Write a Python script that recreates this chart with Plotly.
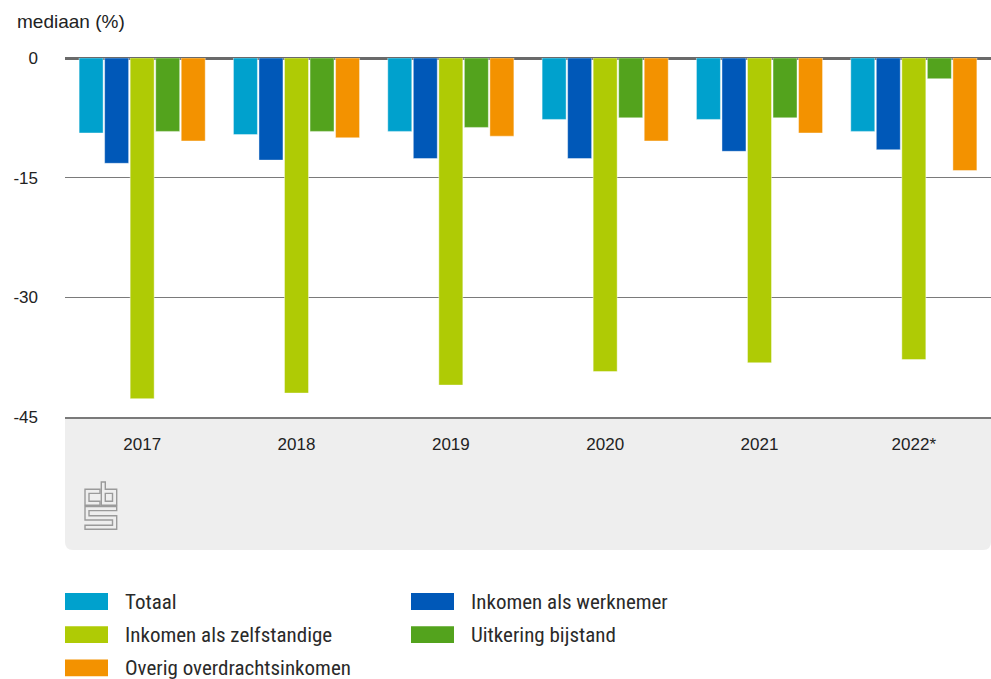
import plotly.graph_objects as go

# ---- data ----
years = ["2017", "2018", "2019", "2020", "2021", "2022*"]
series_names = ["Totaal", "Inkomen als werknemer", "Inkomen als zelfstandige",
                "Uitkering bijstand", "Overig overdrachtsinkomen"]
totaal = [-9.4, -9.6, -9.2, -7.7, -7.7, -9.2]
werknemer = [-13.2, -12.8, -12.6, -12.6, -11.7, -11.5]
zelfstandige = [-42.7, -42.0, -41.0, -39.3, -38.2, -37.8]
bijstand = [-9.2, -9.2, -8.7, -7.5, -7.5, -2.6]
overig = [-10.4, -10.0, -9.8, -10.4, -9.4, -14.1]
y_ticks = [0, -15, -30, -45]
y_title = "mediaan (%)"

colors = ["#00a1cd", "#0058b8", "#afcb05", "#53a31d", "#f39200"]
values = [totaal, werknemer, zelfstandige, bijstand, overig]

W, H = 991, 679
ML, MR, MT, MB = 65, 0, 58, 262
PW, PH = W - ML - MR, H - MT - MB

def px(x):
    return (x - ML) / PW

def py(y):
    return (H - MB - y) / PH

TEXT = "#222222"
FONT = "Liberation Sans, Arial, sans-serif"
LEGFONT = "Liberation Sans Narrow, Roboto Condensed, Liberation Sans, sans-serif"

fig = go.Figure()
for name, vals, col in zip(series_names, values, colors):
    fig.add_trace(go.Bar(
        x=years, y=vals, name=name, marker_color=col,
        marker_line_width=0.6, marker_line_color="rgba(255,255,255,0.7)",
        showlegend=False,
    ))

shapes = []
def P(x, y):
    return f"{px(x):.5f},{py(y):.5f}"
# gray panel under the plot (rounded bottom corners)
panel = (f"M {P(65,417)} L {P(991,417)} L {P(991,542)} Q {P(991,550)} {P(983,550)} "
         f"L {P(73,550)} Q {P(65,550)} {P(65,542)} Z")
shapes.append(dict(type="path", path=panel, xref="paper", yref="paper",
                   fillcolor="#eeeeee", line_width=0, layer="below"))

# CBS logo outline (decorative)
ox, oy = 85, 482
logo_polys = [
    [(15, 7.3), (0, 7.3), (0, 23.3), (15, 23.3), (15, 19.2), (4, 19.2), (4, 11.4), (15, 11.4)],
    [(16.3, 0), (20.3, 0), (20.3, 7.3), (31.7, 7.3), (31.7, 23.3), (16.3, 23.3)],
    [(20.3, 11.4), (27.5, 11.4), (27.5, 19.2), (20.3, 19.2)],
    [(0, 24.5), (31.7, 24.5), (31.7, 28.6), (4, 28.6), (4, 33.7), (31.7, 33.7), (31.7, 47.3),
     (0, 47.3), (0, 43.2), (27.5, 43.2), (27.5, 38), (0, 38)],
]
for poly in logo_polys:
    d = "M " + " L ".join(P(ox + a, oy + b) for a, b in poly) + " Z"
    shapes.append(dict(type="path", path=d, xref="paper", yref="paper",
                       line=dict(color="#9a9a9a", width=1.4), fillcolor="rgba(0,0,0,0)"))

annotations = [dict(text=y_title, x=px(15), y=py(21), xref="paper", yref="paper",
                    xanchor="left", yanchor="middle", showarrow=False,
                    font=dict(family=FONT, size=19, color=TEXT))]

# manual legend (wide swatches, two columns)
leg_pos = [(65, 601.5), (411, 601.5), (65, 634.7), (411, 634.7), (65, 667.8)]
for (lx, ly), name, col in zip(leg_pos, series_names, colors):
    shapes.append(dict(type="rect", xref="paper", yref="paper",
                       x0=px(lx), x1=px(lx + 43), y0=py(ly - 8.4), y1=py(ly + 8.4),
                       fillcolor=col, line_width=0))
    annotations.append(dict(text=name, x=px(lx + 58), y=py(ly), xref="paper", yref="paper",
                            xanchor="left", yanchor="middle", showarrow=False,
                            font=dict(family=LEGFONT, size=21, color="#2a2a2a")))

fig.update_layout(
    width=W, height=H,
    margin=dict(l=ML, r=MR, t=MT, b=MB, pad=0),
    paper_bgcolor="white", plot_bgcolor="white",
    barmode="group", bargap=0.173, bargroupgap=0.06,
    shapes=shapes, annotations=annotations,
    font=dict(family=FONT, size=17, color=TEXT),
    xaxis=dict(showgrid=False, showline=True, linecolor="#7a7a7a", linewidth=1.5,
               ticks="", ticklabelstandoff=11, tickfont=dict(size=17, color=TEXT),
               range=[-0.5, 5.5], fixedrange=True),
    yaxis=dict(range=[-45, 0], tickvals=y_ticks, ticktext=[str(v) for v in y_ticks],
               showgrid=True, gridcolor="#7a7a7a", gridwidth=1,
               zeroline=True, zerolinecolor="#6a6a6a", zerolinewidth=3,
               showline=False, ticks="", ticklabelstandoff=26,
               tickfont=dict(size=17, color=TEXT), fixedrange=True),
)

fig.write_html("out.html", config={"displayModeBar": False},
               post_script="document.body.style.margin='0';document.body.style.overflow='hidden';")
